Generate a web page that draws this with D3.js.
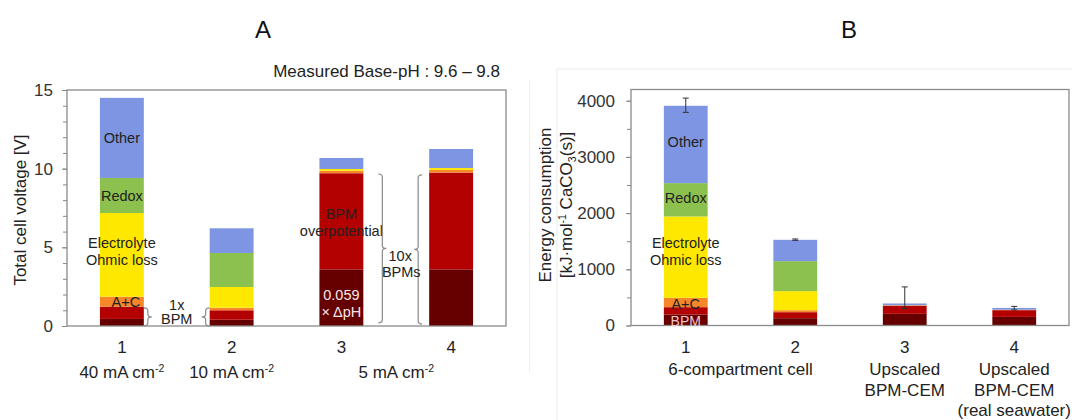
<!DOCTYPE html>
<html>
<head>
<meta charset="utf-8">
<script src="https://cdn.jsdelivr.net/npm/d3@7"></script>
<style>
  body { margin: 0; background: #fff; }
  svg { display: block; font-family: "Liberation Sans", Arial, sans-serif; }
</style>
</head>
<body>
<svg id="chart" width="1072" height="420"></svg>
<script>
const CATEGORIES = ["1", "2", "3", "4"];
const KEYS = ["dph", "bpm", "ac", "electrolyte", "redox", "other"];

// Panel A: total cell voltage [V], bottom to top
const A_DPH         = [0.45, 0.40, 3.60, 3.60];
const A_BPM         = [0.78, 0.60, 6.11, 6.15];
const A_AC          = [0.63, 0.16, 0.16, 0.17];
const A_ELECTROLYTE = [5.32, 1.32, 0.11, 0.12];
const A_REDOX       = [2.23, 2.16, 0.00, 0.00];
const A_OTHER       = [5.09, 1.57, 0.70, 1.21];
const A_TICKS = [0, 5, 10, 15];

// Panel B: energy consumption [kJ/mol CaCO3(s)]
const B_DPH         = [196, 130, 207, 153];
const B_BPM         = [130, 107, 145, 120];
const B_AC          = [166,  35,   6,   5];
const B_ELECTROLYTE = [1448, 339,  3,   3];
const B_REDOX       = [594, 534,   0,   0];
const B_OTHER       = [1376, 380, 31,  32];
const B_ERR_LOW  = [3793, 1515, 303, 277];
const B_ERR_HIGH = [4047, 1540, 687, 340];
const B_TICKS = [0, 1000, 2000, 3000, 4000];

const COLORS = {
  dph:         "#660000",
  bpm:         "#B30000",
  ac:          "#F5862A",
  electrolyte: "#FFE800",
  redox:       "#8DC14F",
  other:       "#7D95E2",
};

const svg = d3.select("#chart");

const rows = (vals) => CATEGORIES.map((c, i) => {
  const r = { cat: c };
  KEYS.forEach((k, j) => { r[k] = vals[j][i]; });
  return r;
});

// text with sup/sub parts: [["cm", ""], ["-2", "sup"]]
const rich = (sel, parts, size) => {
  let shift = 0;
  parts.forEach(([t, kind]) => {
    const target = kind === "sup" ? -6 : kind === "sub" ? 4 : 0;
    sel.append("tspan")
      .attr("dy", target - shift)
      .attr("font-size", kind ? size * 0.62 : size)
      .text(t);
    shift = target;
  });
};

const brace = (x, y1, y2, dir, w) => {
  const ym = (y1 + y2) / 2, r = 3;
  return `M${x - dir * w},${y1} Q${x},${y1} ${x},${y1 + r} L${x},${ym - r} ` +
         `Q${x},${ym} ${x + dir * w},${ym} Q${x},${ym} ${x},${ym + r} ` +
         `L${x},${y2 - r} Q${x},${y2} ${x - dir * w},${y2}`;
};

const drawPanel = (cfg) => {
  const x = d3.scaleBand().domain(CATEGORIES)
    .range(cfg.xRange).paddingInner(0.6).paddingOuter(0.3);
  const y = d3.scaleLinear().domain(cfg.yDomain).range(cfg.yRange);
  const g = svg.append("g");

  const series = d3.stack().keys(KEYS)(cfg.data);

  g.append("g")
    .selectAll("g")
    .data(series)
    .join("g")
    .attr("fill", d => COLORS[d.key])
    .selectAll("rect")
    .data(d => d)
    .join("rect")
    .attr("x", d => x(d.data.cat))
    .attr("width", x.bandwidth())
    .attr("y", d => y(d[1]))
    .attr("height", d => Math.max(0, y(d[0]) - y(d[1])));

  // minor ticks
  g.append("g")
    .attr("transform", `translate(${cfg.xRange[0]},0)`)
    .call(d3.axisLeft(y).tickValues(cfg.minor).tickSize(4).tickFormat(""))
    .call(a => a.select(".domain").remove())
    .call(a => a.selectAll("line").attr("stroke", "#888"));

  g.append("g")
    .attr("transform", `translate(${cfg.xRange[0]},0)`)
    .call(d3.axisLeft(y).tickValues(cfg.ticks).tickSize(5).tickPadding(cfg.pad).tickFormat(d3.format("d")))
    .call(a => a.select(".domain").remove())
    .call(a => a.selectAll("line").attr("stroke", "#888"))
    .call(a => a.selectAll("text")
      .attr("font-size", 17)
      .attr("fill", "#333")
      .attr("font-family", "Liberation Sans, Arial, sans-serif"));

  // frame
  g.append("rect")
    .attr("x", cfg.xRange[0])
    .attr("y", cfg.yRange[1])
    .attr("width", cfg.xRange[1] - cfg.xRange[0])
    .attr("height", cfg.yRange[0] - cfg.yRange[1])
    .attr("fill", "none")
    .attr("stroke", "#8a8a8a")
    .attr("stroke-width", 1.3);

  // category numbers
  g.append("g")
    .selectAll("text")
    .data(CATEGORIES)
    .join("text")
    .attr("x", d => x(d) + x.bandwidth() / 2)
    .attr("y", 353)
    .attr("text-anchor", "middle")
    .attr("font-size", 17)
    .attr("fill", "#222")
    .text(d => d);

  return { x, y, g, series };
};

const midOf = (p, cat, key) => {
  const s = p.series.find(d => d.key === key);
  const v = s.find(d => d.data.cat === cat);
  return p.y((v[0] + v[1]) / 2);
};

const barLabel = (p, cat, key, lines, opts = {}) => {
  const cx = p.x(cat) + p.x.bandwidth() / 2 + (opts.dx || 0);
  const cy = midOf(p, cat, key) + (opts.dy || 0);
  const lh = opts.lh || 17;
  lines.forEach((t, i) => {
    p.g.append("text")
      .attr("x", cx)
      .attr("y", cy + (i - (lines.length - 1) / 2) * lh)
      .attr("dy", "0.35em")
      .attr("text-anchor", "middle")
      .attr("font-size", opts.size || 14.5)
      .attr("fill", opts.color || "#222")
      .text(t);
  });
};

// ---- Panel A ----
const pA = drawPanel({
  xRange: [67, 506],
  yRange: [326, 90],
  yDomain: [0, 15],
  data: rows([A_DPH, A_BPM, A_AC, A_ELECTROLYTE, A_REDOX, A_OTHER]),
  ticks: A_TICKS,
  minor: d3.range(0, 16),
  pad: 9,
});

barLabel(pA, "1", "other", ["Other"]);
barLabel(pA, "1", "redox", ["Redox"]);
barLabel(pA, "1", "electrolyte", ["Electrolyte", "Ohmic loss"], { dy: -3 });
barLabel(pA, "1", "ac", ["A+C"], { dx: 4 });
barLabel(pA, "3", "bpm", ["BPM", "overpotential"], { dy: 1 });
barLabel(pA, "3", "dph", ["0.059", "\u00d7 \u0394pH"], { dy: 6, color: "#F6E8E8" });

const bw = pA.x.bandwidth();
const braceA = [
  { x: pA.x("1") + bw + 4,  from: 0, to: 1.15, dir: 1 },
  { x: pA.x("2") - 4,       from: 0, to: 1.15, dir: -1 },
  { x: pA.x("3") + bw + 19, from: 0.2, to: 9.66, dir: 1 },
  { x: pA.x("4") - 11,      from: 0.13, to: 9.6, dir: -1 },
];
pA.g.append("g")
  .selectAll("path")
  .data(braceA)
  .join("path")
  .attr("d", d => brace(d.x, pA.y(d.to), pA.y(d.from), d.dir, 4))
  .attr("fill", "none")
  .attr("stroke", "#8a8a8a")
  .attr("stroke-width", 1.2);

const midA12 = (pA.x("1") + bw + pA.x("2")) / 2;
const midA34 = (pA.x("3") + bw + pA.x("4")) / 2;
[["1x", midA12, 305], ["BPM", midA12, 319], ["10x", midA34 + 4, 256], ["BPMs", midA34 + 5, 272]]
  .forEach(([t, cx, cy]) => {
    pA.g.append("text")
      .attr("x", cx).attr("y", cy).attr("dy", "0.35em")
      .attr("text-anchor", "middle")
      .attr("font-size", 14.5)
      .attr("fill", "#222")
      .text(t);
  });

// current density labels
const subA = [
  { x: pA.x("1") + bw / 2, num: "40" },
  { x: pA.x("2") + bw / 2, num: "10" },
  { x: (pA.x("3") + pA.x("4") + bw) / 2, num: "5" },
];
subA.forEach(d => {
  const t = svg.append("text")
    .attr("x", d.x).attr("y", 378)
    .attr("text-anchor", "middle")
    .attr("fill", "#222");
  rich(t, [[`${d.num} mA cm`, ""], ["-2", "sup"]], 17);
});

svg.append("text")
  .attr("x", 500).attr("y", 77)
  .attr("text-anchor", "end")
  .attr("font-size", 17)
  .attr("fill", "#222")
  .text("Measured Base-pH : 9.6 \u2013 9.8");

svg.append("text")
  .attr("transform", "translate(26,210) rotate(-90)")
  .attr("text-anchor", "middle")
  .attr("font-size", 17)
  .attr("fill", "#222")
  .text("Total cell voltage [V]");

// ---- Panel B ----
svg.append("rect")
  .attr("x", 557).attr("y", 69)
  .attr("width", 520).attr("height", 360)
  .attr("fill", "none")
  .attr("stroke", "#ececec");
svg.append("line")
  .attr("x1", 529.5).attr("x2", 529.5)
  .attr("y1", 80).attr("y2", 372)
  .attr("stroke", "#efefef");

const pB = drawPanel({
  xRange: [631, 1069],
  yRange: [325.5, 89.5],
  yDomain: [0, 4200],
  data: rows([B_DPH, B_BPM, B_AC, B_ELECTROLYTE, B_REDOX, B_OTHER]),
  ticks: B_TICKS,
  minor: d3.range(0, 4001, 500),
  pad: 11,
});

barLabel(pB, "1", "other", ["Other"], { dy: -3 });
barLabel(pB, "1", "redox", ["Redox"], { dy: -2 });
barLabel(pB, "1", "electrolyte", ["Electrolyte", "Ohmic loss"], { dy: -6 });
barLabel(pB, "1", "ac", ["A+C"], { dy: 1 });
barLabel(pB, "1", "dph", ["BPM"], { dy: 1, color: "#F2C4C4", size: 14 });

const err = CATEGORIES.map((c, i) => ({ cat: c, lo: B_ERR_LOW[i], hi: B_ERR_HIGH[i] }));
const bwB = pB.x.bandwidth();
const eg = pB.g.append("g").attr("stroke", "#333").attr("stroke-width", 1);
eg.selectAll("line.v")
  .data(err)
  .join("line")
  .attr("class", "v")
  .attr("x1", d => pB.x(d.cat) + bwB / 2)
  .attr("x2", d => pB.x(d.cat) + bwB / 2)
  .attr("y1", d => pB.y(d.lo))
  .attr("y2", d => pB.y(d.hi));
["lo", "hi"].forEach(k => {
  eg.selectAll(`line.${k}`)
    .data(err)
    .join("line")
    .attr("class", k)
    .attr("x1", d => pB.x(d.cat) + bwB / 2 - 3)
    .attr("x2", d => pB.x(d.cat) + bwB / 2 + 3)
    .attr("y1", d => pB.y(d[k]))
    .attr("y2", d => pB.y(d[k]));
});

const subB = [
  { x: (pB.x("1") + pB.x("2") + bwB) / 2, lines: ["6-compartment cell"] },
  { x: pB.x("3") + bwB / 2, lines: ["Upscaled", "BPM-CEM"] },
  { x: pB.x("4") + bwB / 2, lines: ["Upscaled", "BPM-CEM", "(real seawater)"] },
];
subB.forEach(d => {
  d.lines.forEach((t, i) => {
    svg.append("text")
      .attr("x", d.x).attr("y", 375 + i * 20.5)
      .attr("text-anchor", "middle")
      .attr("font-size", 17)
      .attr("fill", "#222")
      .text(t);
  });
});

const yl = svg.append("g").attr("transform", "translate(551,205) rotate(-90)");
yl.append("text")
  .attr("text-anchor", "middle")
  .attr("font-size", 17)
  .attr("fill", "#222")
  .text("Energy consumption");
const yl2 = yl.append("text")
  .attr("y", 21)
  .attr("text-anchor", "middle")
  .attr("fill", "#222");
rich(yl2, [["[kJ\u00b7mol", ""], ["-1", "sup"], [" CaCO", ""], ["3", "sub"], ["(s)]", ""]], 17);

// panel titles
[["A", 263], ["B", 849]].forEach(([t, cx]) => {
  svg.append("text")
    .attr("x", cx).attr("y", 38)
    .attr("text-anchor", "middle")
    .attr("font-size", 24)
    .attr("fill", "#111")
    .text(t);
});
</script>
</body>
</html>
